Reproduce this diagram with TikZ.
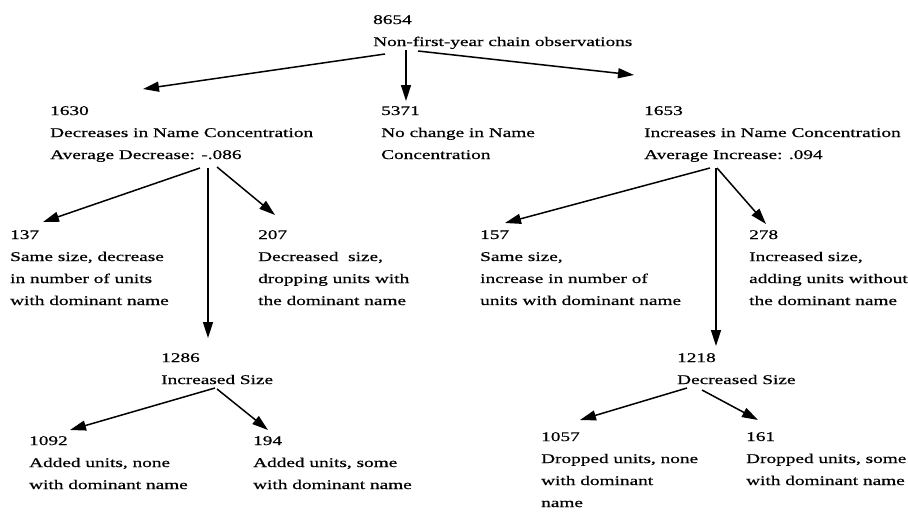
\documentclass[tikz,border=0pt]{standalone}
\usepackage{fontspec}
\setmainfont{Liberation Serif}[FakeStretch=1.45,FakeBold=0.6]
\usetikzlibrary{arrows.meta}
\tikzset{
  block/.style={anchor=north west, inner sep=0pt, align=left,
    font=\fontsize{13.3}{22}\selectfont,
    execute at begin node={\rule{0pt}{10pt}}},
  conn/.style={line width=1.5pt, -{Triangle[length=16pt,width=10pt]}}
}
\begin{document}
\begin{tikzpicture}[x=1pt,y=-1pt]
\useasboundingbox (0,0) rectangle (908,514);
% text blocks (north west = first baseline - 10)
\node[block] (root) at (373,15) {8654\\Non-first-year chain observations};
\node[block] (A) at (50,106) {1630\\Decreases in Name Concentration\\Average Decrease: -.086};
\node[block] (B) at (381,106) {5371\\No change in Name\\Concentration};
\node[block] (C) at (644,106) {1653\\Increases in Name Concentration\\Average Increase: .094};
\node[block] (A1) at (10,230) {137\\Same size, decrease\\in number of units\\with dominant name};
\node[block] (A2) at (258,230) {207\\Decreased\ \ size,\\dropping units with\\the dominant name};
\node[block] (A3) at (161,353) {1286\\Increased Size};
\node[block] (A3a) at (29,436) {1092\\Added units, none\\with dominant name};
\node[block] (A3b) at (253,436) {194\\Added units, some\\with dominant name};
\node[block] (C1) at (480,230) {157\\Same size,\\increase in number of\\units with dominant name};
\node[block] (C2) at (749,230) {278\\Increased size,\\adding units without\\the dominant name};
\node[block] (C3) at (677,353) {1218\\Decreased Size};
\node[block] (C3a) at (541,432) {1057\\Dropped units, none\\with dominant\\name};
\node[block] (C3b) at (746,432) {161\\Dropped units, some\\with dominant name};
% connector end points
\coordinate (rootL) at (385,54);
\coordinate (rootM) at (406,50);
\coordinate (rootR) at (418,51);
\coordinate (Ain) at (143,89);
\coordinate (Bin) at (406,101);
\coordinate (Cin) at (634,75);
\coordinate (AoutL) at (200,168);
\coordinate (AoutM) at (208,168);
\coordinate (AoutR) at (217,167);
\coordinate (A1in) at (43,222);
\coordinate (A2in) at (275,215);
\coordinate (A3in) at (208,338);
\coordinate (CoutL) at (710,168);
\coordinate (CoutM) at (716,168);
\coordinate (CoutR) at (717,168);
\coordinate (C1in) at (505,223);
\coordinate (C2in) at (766,224);
\coordinate (C3in) at (716,346);
\coordinate (A3outL) at (215,388);
\coordinate (A3outR) at (217,389);
\coordinate (A3ain) at (70,430);
\coordinate (A3bin) at (268,430);
\coordinate (C3outL) at (687,388);
\coordinate (C3outR) at (702,390);
\coordinate (C3ain) at (580,420);
\coordinate (C3bin) at (758,420);
% connectors
\draw[conn] (rootL) -- (Ain);
\draw[conn] (rootM) -- (Bin);
\draw[conn] (rootR) -- (Cin);
\draw[conn] (AoutL) -- (A1in);
\draw[conn] (AoutM) -- (A3in);
\draw[conn] (AoutR) -- (A2in);
\draw[conn] (CoutL) -- (C1in);
\draw[conn] (CoutM) -- (C3in);
\draw[conn] (CoutR) -- (C2in);
\draw[conn] (A3outL) -- (A3ain);
\draw[conn] (A3outR) -- (A3bin);
\draw[conn] (C3outL) -- (C3ain);
\draw[conn] (C3outR) -- (C3bin);
\end{tikzpicture}
\end{document}
